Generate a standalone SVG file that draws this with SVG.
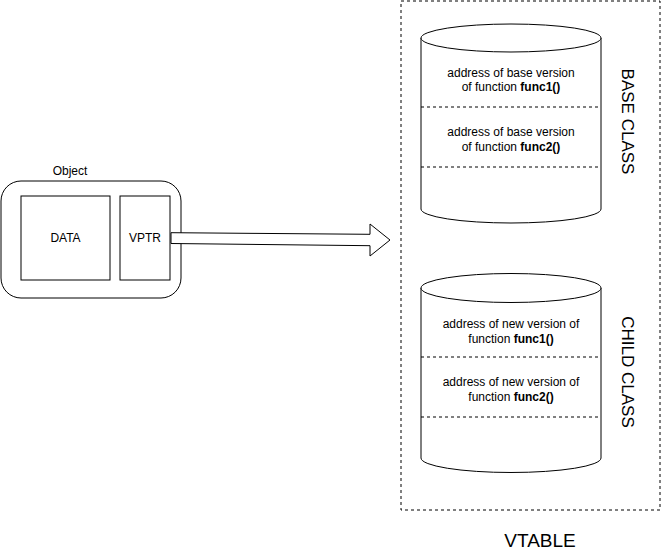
<svg xmlns="http://www.w3.org/2000/svg" width="662" height="553" viewBox="0 0 662 553">
<style>
text{font-family:"Liberation Sans",Arial,sans-serif;fill:#000;}
.t12{font-size:12px;text-anchor:middle;}
.b{font-weight:bold;}
.shape{fill:#fff;stroke:#000;stroke-width:1;}
.dash{fill:none;stroke:#000;stroke-width:1;stroke-dasharray:3 3;}
.big{font-size:17px;text-anchor:middle;}
</style>
<rect width="662" height="553" fill="#fff"/>
<g id="vtable">
<rect class="dash" x="401" y="1" width="259" height="509"/>
<text class="big" x="540" y="547" style="font-size:19px">VTABLE</text>
</g>
<g id="object">
<rect class="shape" x="1" y="181" width="180" height="117" rx="20" ry="20"/>
<text class="t12" x="70" y="175">Object</text>
</g>
<g id="data">
<rect class="shape" x="21" y="196" width="89" height="84"/>
<text class="t12" x="65.5" y="242">DATA</text>
</g>
<g id="vptr">
<rect class="shape" x="120" y="196" width="50" height="84"/>
<text class="t12" x="145" y="242">VPTR</text>
</g>
<g id="base-class">
<path class="shape" d="M421,38 L421,209 A90,14 0 0 0 601,209 L601,38 A90,14 0 0 0 421,38 Z"/>
<path class="shape" d="M421,38 A90,14 0 0 0 601,38"/>
<line class="dash" x1="421" y1="107" x2="601" y2="107"/>
<line class="dash" x1="421" y1="167" x2="601" y2="167"/>
<text class="t12" x="511" y="77">address of base version</text>
<text class="t12" x="511" y="91">of function <tspan class="b">func1()</tspan></text>
<text class="t12" x="511" y="136">address of base version</text>
<text class="t12" x="511" y="151">of function <tspan class="b">func2()</tspan></text>
<text class="big" transform="translate(628,121.5) rotate(90)" y="6">BASE CLASS</text>
</g>
<g id="child-class">
<path class="shape" d="M421,288 L421,458 A90,14.5 0 0 0 601,458 L601,288 A90,14.5 0 0 0 421,288 Z"/>
<path class="shape" d="M421,288 A90,14.5 0 0 0 601,288"/>
<line class="dash" x1="421" y1="357" x2="601" y2="357"/>
<line class="dash" x1="421" y1="417" x2="601" y2="417"/>
<text class="t12" x="511" y="327.5">address of new version of</text>
<text class="t12" x="511" y="342.5">function <tspan class="b">func1()</tspan></text>
<text class="t12" x="511" y="386">address of new version of</text>
<text class="t12" x="511" y="401">function <tspan class="b">func2()</tspan></text>
<text class="big" transform="translate(628,372) rotate(90)" y="6">CHILD CLASS</text>
</g>
<g id="connectors">
<polygon class="shape" points="171,232.7 370,234.3 370,224 390,240 370,256 370,245.7 171,243.5"/>
</g>
</svg>
